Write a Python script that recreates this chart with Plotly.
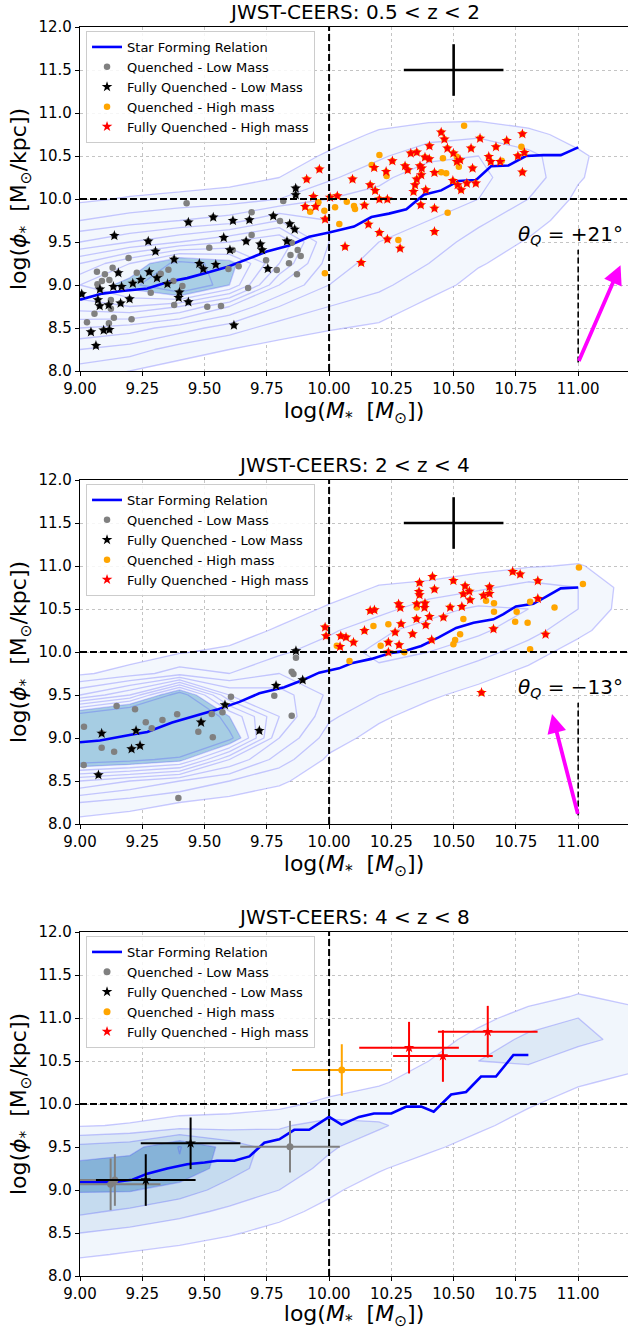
import numpy as np
import plotly.graph_objects as go

# ---------------- data ----------------
titles = ["JWST-CEERS: 0.5 < z < 2", "JWST-CEERS: 2 < z < 4", "JWST-CEERS: 4 < z < 8"]
theta_labels = ["+21°", "−13°"]
arrow_tail_x = [11.0, 11.0]
arrow_tail_y = [8.10, 8.10]
arrow_head_x = [11.17, 10.895]
arrow_head_y = [9.23, 9.28]
err_cross_x = [10.5]
err_cross_y = [11.5]
err_cross_dx = [0.2]
err_cross_dy = [0.3]

# Star forming relations
sf1_x = [9.00, 9.09, 9.17, 9.27, 9.36, 9.43, 9.52, 9.59, 9.68, 9.75, 9.84, 9.92, 10.00, 10.10, 10.17,
         10.24, 10.31, 10.38, 10.45, 10.52, 10.59, 10.65, 10.72, 10.79, 10.86, 10.93, 11.00]
sf1_y = [8.83, 8.90, 8.93, 8.96, 9.04, 9.08, 9.15, 9.21, 9.31, 9.39, 9.46, 9.56, 9.61, 9.68, 9.79,
         9.83, 9.88, 10.05, 10.10, 10.21, 10.22, 10.38, 10.39, 10.50, 10.51, 10.51, 10.60]
sf2_x = [9.00, 9.08, 9.21, 9.27, 9.37, 9.48, 9.55, 9.64, 9.72, 9.82, 9.90, 9.96, 10.04, 10.09, 10.17,
         10.25, 10.30, 10.37, 10.44, 10.51, 10.58, 10.66, 10.70, 10.75, 10.82, 10.87, 10.93, 11.00]
sf2_y = [8.95, 8.97, 9.04, 9.07, 9.18, 9.27, 9.33, 9.42, 9.52, 9.59, 9.68, 9.76, 9.81, 9.87, 9.92,
         9.99, 10.01, 10.07, 10.17, 10.28, 10.34, 10.38, 10.44, 10.53, 10.56, 10.64, 10.74, 10.75]
sf3_x = [9.00, 9.13, 9.21, 9.27, 9.35, 9.43, 9.50, 9.55, 9.62, 9.68, 9.74, 9.80, 9.86, 9.92, 10.00,
         10.05, 10.12, 10.18, 10.25, 10.31, 10.37, 10.42, 10.49, 10.55, 10.61, 10.67, 10.74, 10.80]
sf3_y = [9.09, 9.09, 9.12, 9.19, 9.25, 9.30, 9.32, 9.34, 9.34, 9.39, 9.55, 9.59, 9.70, 9.70, 9.85,
         9.76, 9.85, 9.89, 9.89, 9.97, 9.97, 9.91, 10.11, 10.14, 10.32, 10.32, 10.57, 10.57]

# Panel 1 (0.5 < z < 2)
p1_qlow_x = [9.428, 9.689, 9.689, 9.803, 9.816, 9.519, 9.613, 9.195, 9.068, 9.100, 9.131, 9.118, 9.088,
             9.070, 9.228, 9.324, 9.355, 9.375, 9.411, 9.284, 9.378, 9.511, 9.566, 9.675, 9.637, 9.596,
             9.747, 9.790, 9.839, 9.874, 9.845, 9.886, 9.871, 9.850, 9.124, 9.136, 9.207, 9.028, 9.058,
             9.116, 9.124]
p1_qlow_y = [9.950, 9.845, 9.581, 9.744, 9.977, 9.434, 9.407, 9.314, 9.155, 9.124, 9.202, 9.058, 9.047,
             9.008, 9.143, 9.132, 9.178, 9.047, 8.988, 8.911, 8.767, 8.748, 8.756, 8.965, 9.217, 9.186,
             9.287, 9.174, 9.252, 9.407, 9.349, 9.337, 9.124, 9.492, 8.826, 8.620, 8.601, 8.566, 8.667,
             8.554, 8.725]
p1_fqlow_x = [9.007, 9.138, 9.435, 9.535, 9.614, 9.680, 9.776, 9.866, 9.866, 9.842, 9.862, 9.831, 9.274,
              9.303, 9.577, 9.667, 9.602, 9.724, 9.731, 9.754, 9.378, 9.479, 9.495, 9.545, 9.154, 9.244,
              9.278, 9.309, 9.212, 9.134, 9.167, 9.080, 9.072, 9.079, 9.115, 9.163, 9.199, 9.351, 9.399,
              9.396, 9.435, 9.044, 9.095, 9.118, 9.064, 9.618]
p1_fqlow_y = [8.895, 9.574, 9.729, 9.787, 9.748, 9.756, 9.802, 10.124, 10.047, 9.709, 9.647, 9.508, 9.508,
              9.391, 9.550, 9.508, 9.407, 9.473, 9.407, 9.190, 9.298, 9.248, 9.186, 9.236, 9.140, 9.062,
              9.151, 9.081, 9.019, 8.981, 8.981, 8.950, 8.826, 8.756, 8.767, 8.787, 8.837, 9.012, 8.915,
              8.853, 8.802, 8.453, 8.473, 8.481, 8.295, 8.531]
p1_qhigh_x = [10.202, 10.171, 10.231, 9.924, 9.957, 9.981, 10.024, 10.041, 10.071, 10.100, 10.104, 10.278,
              10.476, 10.450, 10.470, 10.457, 10.513, 10.521, 10.542, 10.772, 10.693, 9.983]
p1_qhigh_y = [10.512, 10.395, 10.267, 9.853, 9.961, 9.864, 9.903, 9.709, 9.969, 9.919, 9.884, 9.523,
              9.841, 10.310, 10.298, 10.473, 10.492, 10.376, 10.853, 10.609, 10.446, 9.136]
p1_fqhigh_x = [9.961, 9.910, 9.937, 9.904, 9.946, 9.984, 10.004, 10.033, 10.094, 10.142, 10.165, 10.185,
               10.181, 10.229, 10.202, 10.234, 10.254, 10.158, 10.202, 10.234, 10.064, 10.129, 10.285,
               10.305, 10.316, 10.328, 10.352, 10.365, 10.372, 10.370, 10.352, 10.345, 10.339, 10.388,
               10.368, 10.423, 10.423, 10.385, 10.402, 10.403, 10.450, 10.463, 10.475, 10.499, 10.513,
               10.526, 10.497, 10.516, 10.530, 10.553, 10.570, 10.576, 10.589, 10.606, 10.641, 10.649,
               10.670, 10.713, 10.687, 10.758, 10.776, 10.784, 10.776, 10.423]
p1_fqhigh_y = [10.345, 10.229, 10.027, 9.911, 9.911, 9.764, 10.019, 10.035, 10.229, 9.926, 10.163, 10.097,
               10.364, 10.318, 9.996, 9.996, 10.442, 9.705, 9.609, 9.531, 9.446, 9.260, 9.426,
               10.384, 10.337, 10.531, 10.543, 10.384, 10.357, 10.279, 10.229, 10.163, 10.085, 10.105,
               9.930, 9.891, 9.620, 10.485, 10.465, 10.616, 10.775, 10.694, 10.589, 10.531, 10.434,
               10.453, 10.213, 10.163, 10.105, 10.182, 10.589, 10.357, 10.182, 10.705, 10.492, 10.434,
               10.605, 10.678, 10.434, 10.500, 10.756, 10.539, 10.310, 10.306]

# Panel 2 (2 < z < 4)
p2_qlow_x = [9.016, 9.015, 9.147, 9.221, 9.087, 9.137, 9.264, 9.288, 9.331, 9.390, 9.475, 9.529, 9.572,
             9.533, 9.606, 9.780, 9.850, 9.857, 9.867, 9.850, 9.395]
p2_qlow_y = [9.132, 8.686, 9.372, 9.333, 8.888, 8.841, 9.182, 9.112, 9.209, 9.275, 9.074, 9.279, 9.298,
             9.008, 9.481, 9.492, 9.771, 9.744, 9.934, 9.260, 8.302]
p2_fqlow_x = [9.087, 9.074, 9.225, 9.207, 9.241, 9.486, 9.582, 9.720, 9.787, 9.867, 9.894]
p2_fqlow_y = [9.054, 8.570, 9.085, 8.872, 8.911, 9.182, 9.384, 9.085, 9.609, 10.012, 9.674]
p2_qhigh_x = [10.031, 10.082, 10.178, 10.207, 10.238, 10.302, 10.352, 10.499, 10.506, 10.526, 10.539,
              10.630, 10.662, 10.662, 10.753, 10.747, 10.797, 10.807, 10.807, 10.905, 11.003, 11.019]
p2_qhigh_y = [10.074, 9.895, 10.302, 10.074, 10.322, 9.996, 10.516, 10.089, 10.140, 10.205, 10.384,
              10.597, 10.566, 10.469, 10.469, 10.353, 10.341, 10.585, 10.031, 10.516, 10.984, 10.791]
p2_fqhigh_x = [9.984, 9.988, 10.047, 10.068, 10.044, 10.098, 10.142, 10.165, 10.182, 10.238, 10.265,
               10.289, 10.281, 10.238, 10.279, 10.286, 10.335, 10.351, 10.352, 10.385, 10.383, 10.363,
               10.361, 10.363, 10.388, 10.403, 10.412, 10.415, 10.423, 10.459, 10.486, 10.499, 10.533,
               10.539, 10.546, 10.563, 10.566, 10.620, 10.644, 10.644, 10.660, 10.737, 10.767, 10.838,
               10.838, 10.869, 10.612]
p2_fqhigh_y = [10.287, 10.186, 10.186, 10.171, 10.062, 10.112, 10.248, 10.481, 10.488, 10.112, 10.229,
               10.326, 10.081, 9.996, 10.558, 10.516, 10.209, 10.384, 10.558, 10.566, 10.516, 10.806,
               10.702, 10.663, 10.314, 10.411, 10.140, 10.876, 10.729, 10.403, 10.519, 10.829, 10.527,
               10.674, 10.767, 10.705, 10.605, 10.656, 10.679, 10.756, 10.267, 10.934, 10.903, 10.826,
               10.620, 10.205, 9.527]

# Panel 3 (4 < z < 8) with uncertainties
p3_qlow_x = [9.123, 9.140, 9.843]
p3_qlow_y = [9.066, 9.116, 9.504]
p3_fqlow_x = [9.264, 9.444]
p3_fqlow_y = [9.116, 9.543]
p3_qhigh_x = [10.051]
p3_qhigh_y = [10.395]
p3_fqhigh_x = [10.321, 10.457, 10.637]
p3_fqhigh_y = [10.655, 10.558, 10.841]
p3_xerr = 0.2
p3_yerr = 0.3

# Star-forming population density (columns along mass grid, rows along phi grid)
grid_x = [9.0, 9.2, 9.4, 9.6, 9.8, 10.0, 10.2, 10.4, 10.6, 10.8, 11.0, 11.2]
grid_y = [7.5, 7.75, 8.0, 8.25, 8.5, 8.75, 9.0, 9.25, 9.5, 9.75, 10.0, 10.25, 10.5, 10.75, 11.0, 11.25, 11.5, 11.75]
dens1_cols = [
    [0, 0.3, 1.5, 3, 5, 7.5, 9, 7, 4, 2, 0.8, 0, 0, 0, 0, 0, 0, 0],
    [0, 0, 1, 2.5, 4.5, 8, 10.5, 9, 5, 2.5, 1.1, 0.3, 0, 0, 0, 0, 0, 0],
    [0, 0, 0.5, 1.5, 3.5, 7, 13, 11.5, 6, 3, 1.3, 0.4, 0, 0, 0, 0, 0, 0],
    [0, 0, 0.2, 1, 2.5, 5, 10, 10.5, 7, 3.5, 1.5, 0.6, 0, 0, 0, 0, 0, 0],
    [0, 0, 0, 0.6, 1.5, 3, 5, 7, 8, 5, 2, 1, 0.3, 0, 0, 0, 0, 0],
    [0, 0, 0, 0.3, 1.1, 2, 3, 3.5, 4, 4, 3, 1.8, 1.2, 0.4, 0, 0, 0, 0],
    [0, 0, 0, 0, 0.8, 1.6, 2.2, 2.6, 3, 3.2, 3.3, 2.8, 1.8, 1.2, 0.3, 0, 0, 0],
    [0, 0, 0, 0, 0.3, 0.7, 1.5, 2, 2.5, 3, 3.4, 3.5, 2.8, 1.5, 0.6, 0, 0, 0],
    [0, 0, 0, 0, 0, 0.2, 0.6, 1.1, 1.6, 2.2, 3, 3.2, 3, 1.8, 0.5, 0, 0, 0],
    [0, 0, 0, 0, 0, 0, 0.2, 0.5, 0.9, 1.4, 2, 2.5, 2.3, 1.3, 0.3, 0, 0, 0],
    [0, 0, 0, 0, 0, 0, 0, 0, 0.2, 0.5, 0.8, 1.1, 1.2, 0.6, 0, 0, 0, 0],
    [0, 0, 0, 0, 0, 0, 0, 0, 0, 0, 0.2, 0.3, 0.3, 0.1, 0, 0, 0, 0],
]
dens2_cols = [
    [0, 0, 0.5, 2, 5, 11, 13, 11, 4, 0.8, 0, 0, 0, 0, 0, 0, 0, 0],
    [0, 0, 0.3, 1.5, 4, 10.5, 14, 13, 6, 1.5, 0.3, 0, 0, 0, 0, 0, 0, 0],
    [0, 0, 0, 1, 3, 9.5, 14, 14, 11, 2.5, 0.9, 0.2, 0, 0, 0, 0, 0, 0],
    [0, 0, 0, 0.6, 2, 5, 10.5, 9, 5, 2, 1.3, 0.3, 0, 0, 0, 0, 0, 0],
    [0, 0, 0, 0.3, 1.2, 2.5, 4, 5, 4.5, 3, 1.8, 1.2, 0.3, 0, 0, 0, 0, 0],
    [0, 0, 0, 0, 0.3, 0.8, 1.5, 2.2, 2.8, 3, 2.6, 1.8, 1.2, 0.3, 0, 0, 0, 0],
    [0, 0, 0, 0, 0, 0.2, 0.6, 1.2, 2, 2.8, 3.2, 2.8, 1.6, 1.1, 0.2, 0, 0, 0],
    [0, 0, 0, 0, 0, 0, 0.2, 0.5, 1.2, 2.2, 3, 3.4, 2.6, 1.3, 0.4, 0, 0, 0],
    [0, 0, 0, 0, 0, 0, 0, 0.2, 0.6, 1.4, 2.4, 3.2, 3.2, 1.8, 0.6, 0, 0, 0],
    [0, 0, 0, 0, 0, 0, 0, 0, 0.2, 0.7, 1.5, 2.4, 3, 2.4, 0.9, 0, 0, 0],
    [0, 0, 0, 0, 0, 0, 0, 0, 0, 0.2, 0.5, 1.3, 2, 2, 1.1, 0.2, 0, 0],
    [0, 0, 0, 0, 0, 0, 0, 0, 0, 0, 0, 0.2, 0.5, 0.6, 0.4, 0, 0, 0],
]
dens3_cols = [
    [0, 0, 0.2, 1.15, 2.0, 3.2, 4.1, 4.4, 3.3, 0.9, 0, 0, 0, 0, 0, 0, 0, 0],
    [0, 0, 0.1, 0.9, 1.7, 2.8, 4.1, 4.6, 3.6, 1.1, 0.3, 0, 0, 0, 0, 0, 0, 0],
    [0, 0, 0, 0.7, 1.4, 2.3, 3.5, 4.9, 5.05, 1.5, 0.4, 0, 0, 0, 0, 0, 0, 0],
    [0, 0, 0, 0.4, 1.1, 1.8, 2.6, 3.4, 3.6, 1.6, 0.5, 0, 0, 0, 0, 0, 0, 0],
    [0, 0, 0, 0, 0.7, 1.3, 2.0, 2.4, 2.5, 1.9, 0.7, 0, 0, 0, 0, 0, 0, 0],
    [0, 0, 0, 0, 0.2, 0.7, 1.2, 1.8, 2.1, 2.3, 1.3, 0.4, 0, 0, 0, 0, 0, 0],
    [0, 0, 0, 0, 0, 0.2, 0.5, 1.1, 1.6, 2.1, 1.5, 0.9, 0.2, 0, 0, 0, 0, 0],
    [0, 0, 0, 0, 0, 0, 0.2, 0.5, 1.2, 1.6, 1.5, 1.4, 1.0, 0.3, 0, 0, 0, 0],
    [0, 0, 0, 0, 0, 0, 0, 0.2, 0.6, 1.2, 1.6, 1.9, 2.0, 1.5, 0.6, 0, 0, 0],
    [0, 0, 0, 0, 0, 0, 0, 0, 0.2, 0.6, 1.1, 1.5, 2.1, 2.2, 1.6, 0.5, 0, 0],
    [0, 0, 0, 0, 0, 0, 0, 0, 0, 0.2, 0.6, 1.1, 1.6, 2.2, 2.0, 1.1, 0.3, 0],
    [0, 0, 0, 0, 0, 0, 0, 0, 0, 0, 0.2, 0.8, 1.3, 1.8, 1.5, 0.7, 0, 0],
]

# ---------------- styling ----------------
FONT = "DejaVu Sans"
C_SF = "#0000ff"
C_QL = "#808080"
C_FQL = "#000000"
C_QH = "#ffa500"
C_FQH = "#ff0000"
LINE_C = "rgba(70,70,255,0.28)"
LIGHT = "#f3f7fd"

W, H = 628, 1330
ML, MR, MT, MB = 80, 0, 27, 54
ph = H - MT - MB
tops_px = [27, 480, 932]
plot_h = 344
domains = []
for t in tops_px:
    top = (H - MB - t) / ph
    bot = (H - MB - (t + plot_h)) / ph
    domains.append([max(0.0, bot), min(1.0, top)])


def fill_scale(band_colors):
    n = len(band_colors)
    zmax = n + 1
    cs = [[0.0, "rgba(255,255,255,0)"], [0.75 / zmax, "rgba(255,255,255,0)"]]
    for k, c in enumerate(band_colors, start=1):
        cs.append([(k - 0.25) / zmax, c])
        end = (k + 0.75) / zmax if k < n else 1.0
        cs.append([end, c])
    return cs, zmax


fig = go.Figure()
suffix = ["", "2", "3"]
legend_names = ["legend", "legend2", "legend3"]

dens_all = [dens1_cols, dens2_cols, dens3_cols]
bands_all = [
    [LIGHT] * 10 + ["#a9cfe5"],
    [LIGHT] * 9 + ["#a6cde3"],
    ["#f1f6fc", "#dde9f6", "#c5dbef", "#a3c7e1", "#86b3d8"],
]
sf_all = [(sf1_x, sf1_y), (sf2_x, sf2_y), (sf3_x, sf3_y)]

for i in range(3):
    xa, ya = "x" + suffix[i], "y" + suffix[i]
    lg = legend_names[i]
    Z = np.array(dens_all[i]).T
    cs, zmax = fill_scale(bands_all[i])
    fig.add_trace(go.Contour(
        x=grid_x, y=grid_y, z=Z, xaxis=xa, yaxis=ya,
        contours=dict(start=1, end=len(bands_all[i]), size=1, coloring="fill"),
        colorscale=cs, zmin=0, zmax=zmax, showscale=False,
        line=dict(color=LINE_C, width=1.3, smoothing=0),
        hoverinfo="skip", showlegend=False))
    fig.add_trace(go.Scatter(
        x=sf_all[i][0], y=sf_all[i][1], mode="lines", xaxis=xa, yaxis=ya,
        line=dict(color=C_SF, width=2.6), name="Star Forming Relation", legend=lg))

# Panels 1 and 2: scatter populations (quenched sets include the fully quenched ones)
pops = [
    (p1_qlow_x, p1_qlow_y, p1_fqlow_x, p1_fqlow_y, p1_qhigh_x, p1_qhigh_y, p1_fqhigh_x, p1_fqhigh_y),
    (p2_qlow_x, p2_qlow_y, p2_fqlow_x, p2_fqlow_y, p2_qhigh_x, p2_qhigh_y, p2_fqhigh_x, p2_fqhigh_y),
]
for i, (qlx, qly, fqlx, fqly, qhx, qhy, fqhx, fqhy) in enumerate(pops):
    xa, ya = "x" + suffix[i], "y" + suffix[i]
    lg = legend_names[i]
    fig.add_trace(go.Scatter(x=qlx + fqlx, y=qly + fqly, mode="markers", xaxis=xa, yaxis=ya,
                             marker=dict(color=C_QL, size=6.5, symbol="circle"),
                             name="Quenched - Low Mass", legend=lg))
    fig.add_trace(go.Scatter(x=fqlx, y=fqly, mode="markers", xaxis=xa, yaxis=ya,
                             marker=dict(color=C_FQL, size=8, symbol="star"),
                             name="Fully Quenched - Low Mass", legend=lg))
    fig.add_trace(go.Scatter(x=qhx + fqhx, y=qhy + fqhy, mode="markers", xaxis=xa, yaxis=ya,
                             marker=dict(color=C_QH, size=6.5, symbol="circle"),
                             name="Quenched - High mass", legend=lg))
    fig.add_trace(go.Scatter(x=fqhx, y=fqhy, mode="markers", xaxis=xa, yaxis=ya,
                             marker=dict(color=C_FQH, size=8, symbol="star"),
                             name="Fully Quenched - High mass", legend=lg))
    # typical uncertainty cross
    fig.add_trace(go.Scatter(x=err_cross_x, y=err_cross_y, mode="markers", xaxis=xa, yaxis=ya,
                             marker=dict(size=0.1, color="black", opacity=0),
                             error_x=dict(type="data", array=err_cross_dx, color="black", thickness=2.6, width=0),
                             error_y=dict(type="data", array=err_cross_dy, color="black", thickness=2.6, width=0),
                             showlegend=False, hoverinfo="skip"))

# Panel 3 with error bars
p3_sets = [
    (p3_qlow_x, p3_qlow_y, C_QL, "circle", 7, "Quenched - Low Mass"),
    (p3_fqlow_x, p3_fqlow_y, C_FQL, "star", 8, "Fully Quenched - Low Mass"),
    (p3_qhigh_x, p3_qhigh_y, C_QH, "circle", 7, "Quenched - High mass"),
    (p3_fqhigh_x, p3_fqhigh_y, C_FQH, "star", 8, "Fully Quenched - High mass"),
]
for (px_, py_, col, sym, sz, nm) in p3_sets:
    fig.add_trace(go.Scatter(
        x=px_, y=py_, mode="markers", xaxis="x3", yaxis="y3",
        marker=dict(color=col, size=sz, symbol=sym),
        error_x=dict(type="constant", value=p3_xerr, color=col, thickness=2, width=0),
        error_y=dict(type="constant", value=p3_yerr, color=col, thickness=2, width=0),
        name=nm, legend="legend3"))

# ---------------- layout ----------------
axis_common = dict(
    showline=True, linecolor="black", linewidth=1.3, mirror=True,
    ticks="outside", ticklen=4, tickwidth=1.2, tickcolor="black",
    showgrid=True, gridcolor="#c4c4c4", griddash="dot", gridwidth=1,
    zeroline=False, automargin=False,
    tickfont=dict(family=FONT, size=15, color="black"),
)
xtitle = "log(<i>M</i><sub>*</sub>&nbsp; [<i>M</i><sub>⊙</sub>])"
ytitle = "log(<i>ϕ</i><sub>*</sub>&nbsp; [M<sub>⊙</sub>/kpc])"

layout = dict(
    width=W, height=H,
    margin=dict(l=ML, r=MR, t=MT, b=MB, autoexpand=False),
    paper_bgcolor="white", plot_bgcolor="white",
    font=dict(family=FONT, color="black"),
    shapes=[], annotations=[],
)
for i in range(3):
    xk = "xaxis" + suffix[i]
    yk = "yaxis" + suffix[i]
    layout[xk] = dict(axis_common, domain=[0, 1], anchor="y" + suffix[i],
                      range=[9.0, 11.2], tick0=9.0, dtick=0.25, tickformat=".2f",
                      title=dict(text=xtitle, font=dict(family=FONT, size=22), standoff=3))
    layout[yk] = dict(axis_common, domain=domains[i], anchor="x" + suffix[i],
                      range=[8.0, 12.0], tick0=8.0, dtick=0.5, tickformat=".1f",
                      title=dict(text=ytitle, font=dict(family=FONT, size=22), standoff=5))
    layout[legend_names[i]] = dict(
        x=0.011, y=domains[i][1] - 4 / ph, xanchor="left", yanchor="top",
        bgcolor="rgba(255,255,255,0.85)", bordercolor="#cccccc", borderwidth=1,
        font=dict(family=FONT, size=13, color="black"), itemwidth=30,
        tracegroupgap=0)
    layout["annotations"].append(dict(
        text=titles[i], xref="paper", yref="paper", x=0.5, y=domains[i][1],
        xanchor="center", yanchor="bottom", yshift=1, showarrow=False,
        font=dict(family=FONT, size=20, color="black")))
    # dividing lines
    layout["shapes"].append(dict(type="line", xref="x" + suffix[i], yref="y" + suffix[i] + " domain",
                                 x0=10.0, x1=10.0, y0=0, y1=1, layer="above",
                                 line=dict(color="black", width=2, dash="7px,3px")))
    layout["shapes"].append(dict(type="line", xref="x" + suffix[i] + " domain", yref="y" + suffix[i],
                                 x0=0, x1=1, y0=10.0, y1=10.0, layer="above",
                                 line=dict(color="black", width=2, dash="7px,3px")))

for i in range(2):
    xr, yr = "x" + suffix[i], "y" + suffix[i]
    layout["shapes"].append(dict(type="line", xref=xr, yref=yr,
                                 x0=arrow_tail_x[i], x1=arrow_tail_x[i], y0=arrow_tail_y[i], y1=9.41,
                                 layer="above", line=dict(color="black", width=1.6, dash="6px,3px")))
    layout["annotations"].append(dict(
        xref=xr, yref=yr, axref=xr, ayref=yr,
        x=arrow_head_x[i], y=arrow_head_y[i], ax=arrow_tail_x[i], ay=arrow_tail_y[i],
        text="", showarrow=True, arrowhead=2, arrowsize=1.0, arrowwidth=3.8,
        arrowcolor="#ff00ff", standoff=0, startstandoff=0))
    layout["annotations"].append(dict(
        xref=xr, yref=yr, x=10.97, y=9.58, xanchor="center", yanchor="middle",
        text="<i>θ</i><sub><i>Q</i></sub> = " + theta_labels[i], showarrow=False,
        font=dict(family=FONT, size=20, color="black")))

fig.update_layout(layout)
fig.write_html("out.html", config={"displayModeBar": False},
               post_script="document.body.style.margin='0';document.body.style.padding='0';")
